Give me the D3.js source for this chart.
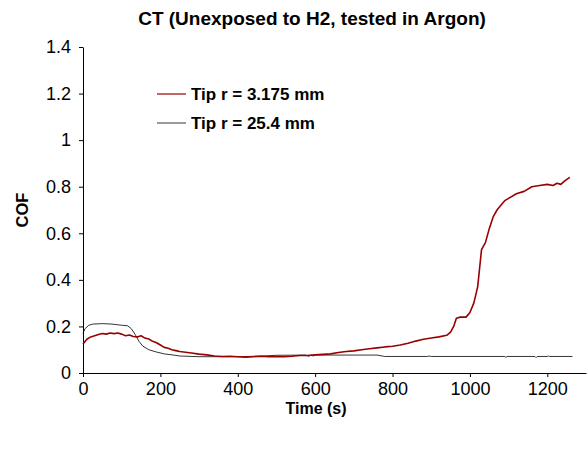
<!DOCTYPE html>
<html>
<head>
<meta charset="utf-8">
<script src="https://cdn.jsdelivr.net/npm/d3@7"></script>
<style>
  body { margin: 0; background: #fff; }
  svg text { font-family: "Liberation Sans", Arial, sans-serif; }
</style>
</head>
<body>
<script>
// chart values
const chartTitle = "CT (Unexposed to H2, tested in Argon)";
const seriesNames = ["Tip r = 3.175 mm", "Tip r = 25.4 mm"];
const xTicks = [0, 200, 400, 600, 800, 1000, 1200];
const yTicks = [0, 0.2, 0.4, 0.6, 0.8, 1, 1.2, 1.4];

// Tip r = 3.175 mm : [time (s), COF]
const smallTip = [
  [0, 0.125], [10, 0.145], [20, 0.155], [30, 0.16], [40, 0.165], [50, 0.17], [60, 0.167],
  [70, 0.172], [80, 0.169], [90, 0.172], [100, 0.167], [110, 0.16], [120, 0.163], [130, 0.157],
  [140, 0.155], [150, 0.16], [160, 0.15], [170, 0.146], [180, 0.136], [190, 0.13], [200, 0.12],
  [210, 0.11], [220, 0.106], [230, 0.1], [240, 0.096], [250, 0.092], [260, 0.09], [280, 0.086],
  [300, 0.081], [320, 0.078], [340, 0.073], [360, 0.071], [380, 0.072], [400, 0.07], [420, 0.068],
  [440, 0.07], [460, 0.072], [480, 0.07], [500, 0.071], [520, 0.07], [540, 0.072], [560, 0.075],
  [580, 0.075], [600, 0.078], [620, 0.08], [640, 0.082], [660, 0.088], [680, 0.092], [700, 0.095],
  [720, 0.1], [740, 0.104], [760, 0.108], [780, 0.112], [800, 0.115], [820, 0.12], [840, 0.128],
  [860, 0.137], [880, 0.145], [900, 0.15], [920, 0.155], [940, 0.162], [950, 0.176], [958, 0.2],
  [965, 0.235], [975, 0.24], [990, 0.24], [1000, 0.26], [1010, 0.3], [1020, 0.37], [1025, 0.45],
  [1030, 0.53], [1040, 0.56], [1050, 0.62], [1060, 0.67], [1070, 0.7], [1080, 0.72], [1090, 0.74],
  [1100, 0.75], [1120, 0.77], [1140, 0.78], [1160, 0.8], [1180, 0.805], [1200, 0.81], [1215, 0.805],
  [1225, 0.815], [1235, 0.81], [1245, 0.825], [1258, 0.84]
];

// Tip r = 25.4 mm : [time (s), COF]
const largeTip = [
  [0, 0.17], [5, 0.19], [15, 0.205], [25, 0.21], [50, 0.212], [75, 0.21], [100, 0.205],
  [115, 0.203], [125, 0.19], [135, 0.165], [145, 0.135], [155, 0.115], [170, 0.1], [190, 0.09],
  [210, 0.082], [230, 0.078], [250, 0.073], [300, 0.07], [400, 0.07], [450, 0.072], [500, 0.076],
  [575, 0.077], [583, 0.072], [590, 0.077], [595, 0.073], [600, 0.077], [760, 0.077], [780, 0.071],
  [890, 0.071], [895, 0.073], [900, 0.071], [1090, 0.071], [1093, 0.067], [1096, 0.071],
  [1168, 0.071], [1171, 0.066], [1174, 0.071], [1200, 0.071], [1203, 0.073], [1206, 0.071],
  [1265, 0.071]
];

const W = 587, H = 449;
const svg = d3.select("body").append("svg")
  .attr("width", W).attr("height", H)
  .style("background", "#fff");

const x = d3.scaleLinear().domain([0, 1300]).range([83, 586]);
const y = d3.scaleLinear().domain([0, 1.4]).range([373, 47]);

// axes
const xAxis = d3.axisBottom(x).tickValues(xTicks).tickSize(4).tickSizeOuter(0).tickPadding(5)
  .tickFormat(d3.format("d"));
const yAxis = d3.axisLeft(y).tickValues(yTicks).tickSize(4).tickSizeOuter(0).tickPadding(8)
  .tickFormat(d => String(+d.toFixed(1)));

const gx = svg.append("g").attr("transform", "translate(0," + y(0) + ")").call(xAxis);
const gy = svg.append("g").attr("transform", "translate(" + x(0) + ",0)").call(yAxis);
[gx, gy].forEach(g => {
  g.attr("font-family", null).attr("font-size", null);
  g.selectAll("path, line").attr("stroke", "#000");
  g.selectAll("text").attr("font-size", 18).attr("fill", "#000");
});

// lines
const line = d3.line().x(d => x(d[0])).y(d => y(d[1]));

svg.append("path").datum(largeTip)
  .attr("fill", "none").attr("stroke", "#000").attr("stroke-width", 0.8)
  .attr("d", line);

svg.append("path").datum(smallTip)
  .attr("fill", "none").attr("stroke", "#990000").attr("stroke-width", 1.6)
  .attr("stroke-linejoin", "round")
  .attr("d", line);

// titles
svg.append("text").attr("x", 312).attr("y", 25)
  .attr("text-anchor", "middle").attr("font-weight", "bold").attr("font-size", 19)
  .text(chartTitle);

svg.append("text").attr("x", 316).attr("y", 414)
  .attr("text-anchor", "middle").attr("font-weight", "bold").attr("font-size", 16)
  .text("Time (s)");

svg.append("text").attr("transform", "translate(28,210) rotate(-90)")
  .attr("text-anchor", "middle").attr("font-weight", "bold").attr("font-size", 16.5)
  .text("COF");

// legend
const legendColors = ["#990000", "#000"];
const legendWidths = [1.2, 0.8];
seriesNames.forEach((name, i) => {
  const ly = 94 + i * 29;
  svg.append("line").attr("x1", 157).attr("x2", 186).attr("y1", ly).attr("y2", ly)
    .attr("stroke", legendColors[i]).attr("stroke-width", legendWidths[i]);
  svg.append("text").attr("x", 191).attr("y", ly + 6)
    .attr("font-weight", "bold").attr("font-size", 17)
    .text(name);
});
</script>
</body>
</html>
